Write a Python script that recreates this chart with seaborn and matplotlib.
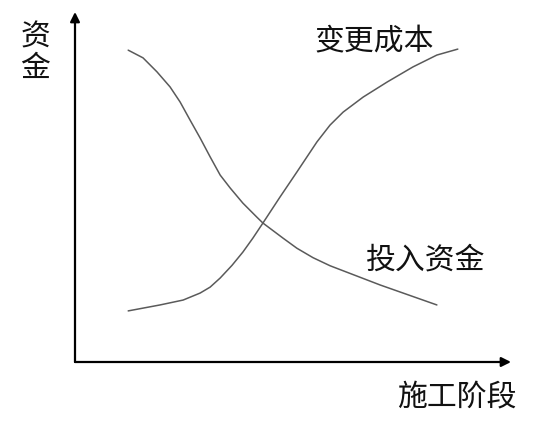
import pandas as pd
import matplotlib
matplotlib.use("Agg")
import matplotlib.pyplot as plt
import seaborn as sns

# 投入资金 curve (falling)
invest_x = [12.2, 15.6, 18.8, 21.8, 24.1, 26.4, 28.7, 31.0, 33.3, 35.6, 38.5, 41.7, 43.1,
            47.7, 50.9, 54.6, 58.5, 60.8, 70.0, 83.0]
invest_y = [89.1, 86.9, 82.9, 78.6, 74.3, 69.1, 64.0, 58.6, 53.4, 49.7, 45.4, 41.4, 39.7,
            35.4, 32.5, 29.8, 27.5, 26.4, 22.0, 16.3]

# 变更成本 curve (rising)
change_x = [12.2, 19.5, 24.8, 28.7, 31.0, 33.3, 36.0, 38.5, 40.8, 43.1, 47.0, 50.9, 55.5,
            58.5, 61.5, 66.1, 71.6, 77.5, 83.0, 87.8]
change_y = [14.6, 16.3, 17.7, 19.7, 21.4, 24.0, 27.6, 31.4, 35.4, 39.7, 47.1, 54.3, 62.9,
            67.7, 71.4, 75.7, 80.0, 84.3, 87.7, 89.4]

labels = {"投入资金": (80.5, 29.1), "变更成本": (68.6, 91.4)}

df = pd.concat([
    pd.DataFrame({"x": invest_x, "y": invest_y, "s": "投入资金"}),
    pd.DataFrame({"x": change_x, "y": change_y, "s": "变更成本"}),
])

sns.set_theme(style="white")
plt.rcParams["font.family"] = ["Noto Sans CJK SC", "DejaVu Sans"]

fig = plt.figure(figsize=(5.54, 4.30), dpi=100)
ax = fig.add_axes([75 / 554, 68 / 430, 436 / 554, 350 / 430])
sns.lineplot(data=df, x="x", y="y", hue="s", sort=False, estimator=None,
             palette=["#5a5a5a", "#5a5a5a"], linewidth=1.1, legend=False, ax=ax)
ax.set_xlim(0, 100)
ax.set_ylim(0, 100)
ax.set_xticks([])
ax.set_yticks([])
ax.set_xlabel("")
ax.set_ylabel("")
for sp in ax.spines.values():
    sp.set_visible(False)

# axes with arrow heads
arrow = dict(arrowstyle="-|>", lw=1.6, color="black", mutation_scale=14,
             shrinkA=0, shrinkB=0)
ax.annotate("", xy=(1, 0), xytext=(0, 0), xycoords="axes fraction", arrowprops=arrow)
ax.annotate("", xy=(0, 1), xytext=(0, 0), xycoords="axes fraction", arrowprops=arrow)

for name, (lx, ly) in labels.items():
    ax.text(lx, ly, name, fontsize=21.5, ha="center", va="center", color="#111111")

fig.text(457 / 554, 1 - 397 / 430, "施工阶段", fontsize=21.5,
         ha="center", va="center", color="#111111")
fig.text(35 / 554, 1 - 53 / 430, "资\n金", fontsize=21.5,
         ha="center", va="center", linespacing=1.0, color="#111111")

fig.savefig("out.png", dpi=100)
